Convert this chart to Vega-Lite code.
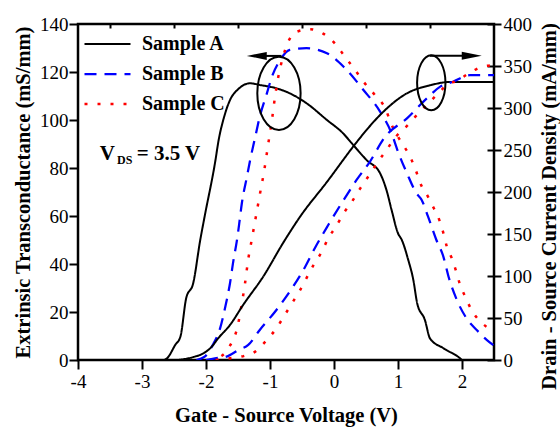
{
"$schema": "https://vega.github.io/schema/vega-lite/v6.json",
"width": 416, "height": 336,
"autosize": {"type": "none"},
"padding": {"left": 78, "top": 24, "right": 66, "bottom": 70},
"background": "white",
"config": {
  "view": {"stroke": "black", "strokeWidth": 2.5},
  "font": "Liberation Serif",
  "axis": {"labelFont": "Liberation Serif", "labelFontSize": 19, "labelColor": "black", "titleFont": "Liberation Serif", "titleFontSize": 20.5, "titleFontWeight": "bold", "titleColor": "black", "tickColor": "black", "tickWidth": 2, "domain": false, "grid": false, "labelOverlap": false, "labelFlush": false}
},
"datasets": {
  "gm": [
    {"s":"Sample A","v":-4,"g":0},{"s":"Sample A","v":-2.67,"g":0},{"s":"Sample A","v":-2.61,"g":0.7},{"s":"Sample A","v":-2.48,"g":6.3},{"s":"Sample A","v":-2.4,"g":9.7},{"s":"Sample A","v":-2.31,"g":25.7},{"s":"Sample A","v":-2.2,"g":32},{"s":"Sample A","v":-2.09,"g":50},{"s":"Sample A","v":-2.02,"g":60},{"s":"Sample A","v":-1.86,"g":82},{"s":"Sample A","v":-1.8,"g":92},{"s":"Sample A","v":-1.72,"g":101},{"s":"Sample A","v":-1.625,"g":108.3},{"s":"Sample A","v":-1.49,"g":113},{"s":"Sample A","v":-1.31,"g":115.3},{"s":"Sample A","v":-1.16,"g":114.6},{"s":"Sample A","v":-0.9,"g":113.2},{"s":"Sample A","v":-0.69,"g":111.1},{"s":"Sample A","v":-0.43,"g":107},{"s":"Sample A","v":-0.11,"g":100},{"s":"Sample A","v":0.14,"g":94.5},{"s":"Sample A","v":0.3,"g":89.6},{"s":"Sample A","v":0.51,"g":83.3},{"s":"Sample A","v":0.72,"g":77.8},{"s":"Sample A","v":0.82,"g":70.8},{"s":"Sample A","v":0.9,"g":62.5},{"s":"Sample A","v":1.0,"g":52.8},{"s":"Sample A","v":1.06,"g":50},{"s":"Sample A","v":1.16,"g":41.7},{"s":"Sample A","v":1.24,"g":33.3},{"s":"Sample A","v":1.3,"g":23.6},{"s":"Sample A","v":1.42,"g":16.7},{"s":"Sample A","v":1.5,"g":9},{"s":"Sample A","v":1.71,"g":4.9},{"s":"Sample A","v":1.97,"g":0.7},{"s":"Sample A","v":2.0,"g":0},{"s":"Sample A","v":2.5,"g":0},
    {"s":"Sample B","v":-2.15,"g":0},{"s":"Sample B","v":-2.02,"g":1.4},{"s":"Sample B","v":-1.9,"g":6},{"s":"Sample B","v":-1.78,"g":13.2},{"s":"Sample B","v":-1.7,"g":22},{"s":"Sample B","v":-1.625,"g":32},{"s":"Sample B","v":-1.57,"g":41.7},{"s":"Sample B","v":-1.52,"g":49.3},{"s":"Sample B","v":-1.48,"g":57},{"s":"Sample B","v":-1.44,"g":65.3},{"s":"Sample B","v":-1.36,"g":76.4},{"s":"Sample B","v":-1.31,"g":83.3},{"s":"Sample B","v":-1.23,"g":93},{"s":"Sample B","v":-1.16,"g":101.4},{"s":"Sample B","v":-1.05,"g":111},{"s":"Sample B","v":-0.97,"g":118},{"s":"Sample B","v":-0.84,"g":125},{"s":"Sample B","v":-0.69,"g":129.2},{"s":"Sample B","v":-0.43,"g":129.9},{"s":"Sample B","v":-0.11,"g":127.8},{"s":"Sample B","v":0.15,"g":122.2},{"s":"Sample B","v":0.46,"g":112.5},{"s":"Sample B","v":0.72,"g":103.5},{"s":"Sample B","v":0.9,"g":94.4},{"s":"Sample B","v":1.0,"g":86.8},{"s":"Sample B","v":1.14,"g":77.8},{"s":"Sample B","v":1.29,"g":69.4},{"s":"Sample B","v":1.37,"g":66.7},{"s":"Sample B","v":1.47,"g":59.7},{"s":"Sample B","v":1.6,"g":50},{"s":"Sample B","v":1.71,"g":43},{"s":"Sample B","v":1.79,"g":34.7},{"s":"Sample B","v":1.92,"g":25},{"s":"Sample B","v":2.07,"g":17.4},{"s":"Sample B","v":2.23,"g":12.5},{"s":"Sample B","v":2.39,"g":8.3},{"s":"Sample B","v":2.5,"g":6},
    {"s":"Sample C","v":-1.95,"g":0},{"s":"Sample C","v":-1.83,"g":0.7},{"s":"Sample C","v":-1.65,"g":4.9},{"s":"Sample C","v":-1.49,"g":16},{"s":"Sample C","v":-1.45,"g":22},{"s":"Sample C","v":-1.39,"g":32},{"s":"Sample C","v":-1.34,"g":42},{"s":"Sample C","v":-1.3,"g":48},{"s":"Sample C","v":-1.23,"g":58.3},{"s":"Sample C","v":-1.16,"g":68.8},{"s":"Sample C","v":-1.09,"g":79},{"s":"Sample C","v":-1.03,"g":89.6},{"s":"Sample C","v":-0.97,"g":100},{"s":"Sample C","v":-0.92,"g":110},{"s":"Sample C","v":-0.87,"g":118},{"s":"Sample C","v":-0.8,"g":126},{"s":"Sample C","v":-0.74,"g":131},{"s":"Sample C","v":-0.58,"g":136.8},{"s":"Sample C","v":-0.375,"g":137.8},{"s":"Sample C","v":-0.17,"g":136},{"s":"Sample C","v":0.02,"g":131.7},{"s":"Sample C","v":0.17,"g":126.4},{"s":"Sample C","v":0.33,"g":120.8},{"s":"Sample C","v":0.46,"g":116},{"s":"Sample C","v":0.64,"g":110.4},{"s":"Sample C","v":0.8,"g":104.9},{"s":"Sample C","v":0.9,"g":98},{"s":"Sample C","v":1.0,"g":93},{"s":"Sample C","v":1.08,"g":89.6},{"s":"Sample C","v":1.19,"g":84.7},{"s":"Sample C","v":1.28,"g":78.9},{"s":"Sample C","v":1.35,"g":73.6},{"s":"Sample C","v":1.47,"g":68},{"s":"Sample C","v":1.56,"g":63.2},{"s":"Sample C","v":1.65,"g":58},{"s":"Sample C","v":1.71,"g":52.8},{"s":"Sample C","v":1.76,"g":47.5},{"s":"Sample C","v":1.84,"g":42.4},{"s":"Sample C","v":1.91,"g":36.8},{"s":"Sample C","v":1.97,"g":31.3},{"s":"Sample C","v":2.05,"g":26.4},{"s":"Sample C","v":2.15,"g":20.8},{"s":"Sample C","v":2.31,"g":15.5},{"s":"Sample C","v":2.5,"g":12}
  ],
  "ids": [
    {"s":"Sample A","v":-2.45,"i":0},{"s":"Sample A","v":-2.35,"i":1},{"s":"Sample A","v":-2.2,"i":3.5},{"s":"Sample A","v":-2.04,"i":8},{"s":"Sample A","v":-1.92,"i":15},{"s":"Sample A","v":-1.81,"i":25.8},{"s":"Sample A","v":-1.625,"i":41.7},{"s":"Sample A","v":-1.42,"i":65.5},{"s":"Sample A","v":-1.1,"i":100},{"s":"Sample A","v":-0.79,"i":140},{"s":"Sample A","v":-0.53,"i":170.6},{"s":"Sample A","v":-0.11,"i":212},{"s":"Sample A","v":0.33,"i":257},{"s":"Sample A","v":0.51,"i":274},{"s":"Sample A","v":0.72,"i":291.7},{"s":"Sample A","v":1.14,"i":317.5},{"s":"Sample A","v":1.5,"i":327},{"s":"Sample A","v":1.81,"i":331},{"s":"Sample A","v":2.5,"i":331},
    {"s":"Sample B","v":-2.0,"i":0},{"s":"Sample B","v":-1.86,"i":2},{"s":"Sample B","v":-1.68,"i":4},{"s":"Sample B","v":-1.49,"i":12},{"s":"Sample B","v":-1.34,"i":17.9},{"s":"Sample B","v":-1.16,"i":35.7},{"s":"Sample B","v":-0.9,"i":59.5},{"s":"Sample B","v":-0.64,"i":87.3},{"s":"Sample B","v":-0.45,"i":111},{"s":"Sample B","v":-0.3,"i":133},{"s":"Sample B","v":-0.09,"i":160.7},{"s":"Sample B","v":0.15,"i":190.5},{"s":"Sample B","v":0.35,"i":214},{"s":"Sample B","v":0.56,"i":236},{"s":"Sample B","v":0.8,"i":265.9},{"s":"Sample B","v":1.14,"i":287.7},{"s":"Sample B","v":1.45,"i":311.5},{"s":"Sample B","v":1.66,"i":325.4},{"s":"Sample B","v":1.86,"i":331.3},{"s":"Sample B","v":2.125,"i":339},{"s":"Sample B","v":2.5,"i":339},
    {"s":"Sample C","v":-1.85,"i":0},{"s":"Sample C","v":-1.625,"i":2},{"s":"Sample C","v":-1.4,"i":5},{"s":"Sample C","v":-1.23,"i":10},{"s":"Sample C","v":-1.05,"i":23.8},{"s":"Sample C","v":-0.9,"i":37.7},{"s":"Sample C","v":-0.77,"i":53.6},{"s":"Sample C","v":-0.64,"i":69.4},{"s":"Sample C","v":-0.53,"i":83.3},{"s":"Sample C","v":-0.32,"i":113},{"s":"Sample C","v":-0.19,"i":129},{"s":"Sample C","v":-0.09,"i":145},{"s":"Sample C","v":0.03,"i":158.7},{"s":"Sample C","v":0.15,"i":174.6},{"s":"Sample C","v":0.28,"i":188.5},{"s":"Sample C","v":0.41,"i":204.4},{"s":"Sample C","v":0.54,"i":219},{"s":"Sample C","v":0.67,"i":234},{"s":"Sample C","v":0.82,"i":250},{"s":"Sample C","v":0.97,"i":266},{"s":"Sample C","v":1.14,"i":278.6},{"s":"Sample C","v":1.32,"i":293.7},{"s":"Sample C","v":1.5,"i":307.5},{"s":"Sample C","v":1.68,"i":321.4},{"s":"Sample C","v":1.79,"i":329.4},{"s":"Sample C","v":1.89,"i":331.3},{"s":"Sample C","v":2.1,"i":341},{"s":"Sample C","v":2.31,"i":349},{"s":"Sample C","v":2.5,"i":351}
  ]
},
"layer": [
  {
    "layer": [
      {
        "data": {"name": "gm"},
        "mark": {"type": "line", "clip": true, "interpolate": "monotone"},
        "encoding": {
          "x": {"field": "v", "type": "quantitative", "scale": {"domain": [-4, 2.5], "nice": false, "zero": false},
                "axis": {"orient": "bottom", "title": "Gate - Source Voltage (V)", "values": [-4,-3.5,-3,-2.5,-2,-1.5,-1,-0.5,0,0.5,1,1.5,2,2.5], "labelExpr": "datum.value % 1 === 0 ? '' + datum.value : ''", "tickSize": {"condition": {"test": "datum.value % 1 === 0", "value": 9}, "value": 5}, "labelPadding": 3, "titlePadding": 14}},
          "y": {"field": "g", "type": "quantitative", "scale": {"domain": [0, 140], "nice": false},
                "axis": {"orient": "left", "title": "Extrinsic Transconductance (mS/mm)", "values": [0,10,20,30,40,50,60,70,80,90,100,110,120,130,140], "labelExpr": "datum.value % 20 === 0 ? datum.label : ''", "tickSize": {"condition": {"test": "datum.value % 20 === 0", "value": 9}, "value": 5}, "labelPadding": 1, "titlePadding": 6}},
          "color": {"field": "s", "type": "nominal", "scale": {"domain": ["Sample A","Sample B","Sample C"], "range": ["#000000","#0000ff","#ff0000"]},
                    "legend": {"orient": "top-left", "offset": 5, "padding": 0, "title": null, "labelFont": "Liberation Serif", "labelFontSize": 20, "labelFontWeight": "bold", "labelColor": "black", "symbolSize": 2116, "symbolStrokeWidth": 2.5, "clipHeight": 30, "labelOffset": 10, "rowPadding": 0, "symbolType": "stroke"}},
          "strokeDash": {"field": "s", "type": "nominal", "scale": {"domain": ["Sample A","Sample B","Sample C"], "range": [[1,0],[12,8],[3,10]]},
                    "legend": {"orient": "top-left", "offset": 5, "padding": 0, "title": null, "labelFont": "Liberation Serif", "labelFontSize": 20, "labelFontWeight": "bold", "labelColor": "black", "symbolSize": 2116, "symbolStrokeWidth": 2.5, "clipHeight": 30, "labelOffset": 10, "rowPadding": 0, "symbolType": "stroke"}},
          "strokeWidth": {"field": "s", "type": "nominal", "scale": {"domain": ["Sample A","Sample B","Sample C"], "range": [2,2.5,3]}, "legend": null}
        }
      },
      {
        "data": {"values": [{}]},
        "mark": {"type": "text", "text": "V", "align": "left", "baseline": "alphabetic", "font": "Liberation Serif", "fontSize": 21, "fontWeight": "bold", "color": "black"},
        "encoding": {"x": {"datum": -3.66}, "y": {"datum": 83.3}}
      },
      {
        "data": {"values": [{}]},
        "mark": {"type": "text", "text": "DS", "align": "left", "baseline": "alphabetic", "font": "Liberation Serif", "fontSize": 12, "fontWeight": "bold", "color": "black"},
        "encoding": {"x": {"datum": -3.39}, "y": {"datum": 81.5}}
      },
      {
        "data": {"values": [{}]},
        "mark": {"type": "text", "text": "= 3.5 V", "align": "left", "baseline": "alphabetic", "font": "Liberation Serif", "fontSize": 21, "fontWeight": "bold", "color": "black"},
        "encoding": {"x": {"datum": -3.083}, "y": {"datum": 83.3}}
      },
      {
        "data": {"values": [{}]},
        "mark": {"type": "point", "shape": "M 0.59 0 C 0.59 0.552 0.326 1 0 1 C -0.326 1 -0.59 0.552 -0.59 0 C -0.59 -0.552 -0.326 -1 0 -1 C 0.326 -1 0.59 -0.552 0.59 0 Z", "size": 5388, "filled": false, "stroke": "black", "strokeWidth": 2, "opacity": 1},
        "encoding": {"x": {"datum": -0.86}, "y": {"datum": 111.1}}
      },
      {
        "data": {"values": [{}]},
        "mark": {"type": "rule", "color": "black", "strokeWidth": 2},
        "encoding": {"x": {"datum": -1.25}, "x2": {"datum": -0.82}, "y": {"datum": 126.7}}
      },
      {
        "data": {"values": [{}]},
        "mark": {"type": "point", "shape": "M -1 0 L 1 -0.4 L 1 0.4 Z", "size": 400, "filled": true, "color": "black", "opacity": 1},
        "encoding": {"x": {"datum": -1.207}, "y": {"datum": 126.7}}
      }
    ]
  },
  {
    "layer": [
      {
        "data": {"name": "ids"},
        "mark": {"type": "line", "clip": true, "interpolate": "monotone"},
        "encoding": {
          "x": {"field": "v", "type": "quantitative", "scale": {"domain": [-4, 2.5], "nice": false, "zero": false},
                "axis": {"orient": "top", "title": null, "labels": false, "values": [-3.5,-3,-2.5,-2,-1.5,-1,-0.5,0,0.5,1,1.5,2], "tickSize": 4, "offset": -4}},
          "y": {"field": "i", "type": "quantitative", "scale": {"domain": [0, 400], "nice": false},
                "axis": {"orient": "right", "title": "Drain - Source Current Density (mA/mm)", "titleAngle": 270, "titleBaseline": "top", "titleAlign": "center", "titleY": 182, "values": [0,25,50,75,100,125,150,175,200,225,250,275,300,325,350,375,400], "labelExpr": "datum.value % 50 === 0 ? datum.label : ''", "tickSize": {"condition": {"test": "datum.value % 50 === 0", "value": 14}, "value": 10}, "offset": -7, "labelPadding": 2, "titlePadding": 8}},
          "color": {"field": "s", "type": "nominal", "scale": {"domain": ["Sample A","Sample B","Sample C"], "range": ["#000000","#0000ff","#ff0000"]},
                    "legend": {"orient": "top-left", "offset": 5, "padding": 0, "title": null, "labelFont": "Liberation Serif", "labelFontSize": 20, "labelFontWeight": "bold", "labelColor": "black", "symbolSize": 2116, "symbolStrokeWidth": 2.5, "clipHeight": 30, "labelOffset": 10, "rowPadding": 0, "symbolType": "stroke"}},
          "strokeDash": {"field": "s", "type": "nominal", "scale": {"domain": ["Sample A","Sample B","Sample C"], "range": [[1,0],[12,8],[3,10]]},
                    "legend": {"orient": "top-left", "offset": 5, "padding": 0, "title": null, "labelFont": "Liberation Serif", "labelFontSize": 20, "labelFontWeight": "bold", "labelColor": "black", "symbolSize": 2116, "symbolStrokeWidth": 2.5, "clipHeight": 30, "labelOffset": 10, "rowPadding": 0, "symbolType": "stroke"}},
          "strokeWidth": {"field": "s", "type": "nominal", "scale": {"domain": ["Sample A","Sample B","Sample C"], "range": [2,2.5,3]}, "legend": null}
        }
      },
      {
        "data": {"values": [{}]},
        "mark": {"type": "point", "shape": "M 0.516 0 C 0.516 0.552 0.285 1 0 1 C -0.285 1 -0.516 0.552 -0.516 0 C -0.516 -0.552 -0.285 -1 0 -1 C 0.285 -1 0.516 -0.552 0.516 0 Z", "size": 3025, "filled": false, "stroke": "black", "strokeWidth": 2, "opacity": 1},
        "encoding": {"x": {"datum": 1.52}, "y": {"datum": 330}}
      },
      {
        "data": {"values": [{}]},
        "mark": {"type": "rule", "color": "black", "strokeWidth": 2},
        "encoding": {"x": {"datum": 1.5}, "x2": {"datum": 2.12}, "y": {"datum": 362.3}}
      },
      {
        "data": {"values": [{}]},
        "mark": {"type": "point", "shape": "M 1 0 L -1 -0.4 L -1 0.4 Z", "size": 400, "filled": true, "color": "black", "opacity": 1},
        "encoding": {"x": {"datum": 2.152}, "y": {"datum": 362.3}}
      }
    ]
  }
],
"resolve": {"scale": {"y": "independent"}, "axis": {"x": "independent", "y": "independent"}}
}
